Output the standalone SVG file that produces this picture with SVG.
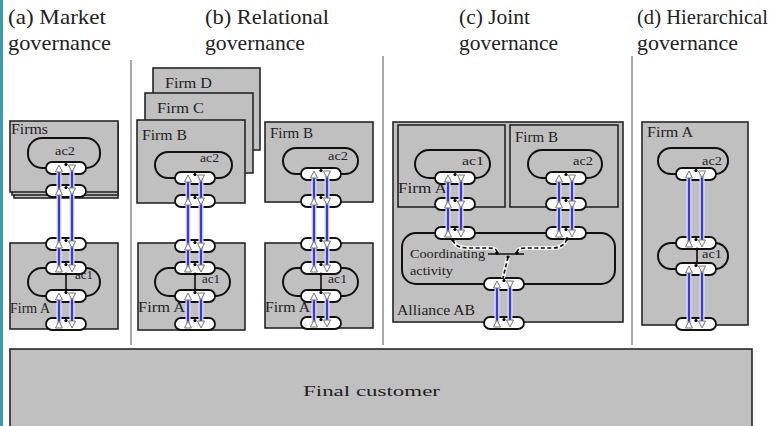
<svg xmlns="http://www.w3.org/2000/svg" xmlns:xlink="http://www.w3.org/1999/xlink" width="770" height="426" viewBox="0 0 770 426">
<style>
text{font-family:"Liberation Serif","Times New Roman",serif;fill:#222}
.title{font-size:21px}
.lbl{font-size:14px}
.ac{font-size:13px}
.box{fill:#c0c0c0;stroke:#262626;stroke-width:1.6}
.loop{fill:none;stroke:#111;stroke-width:2}
.div{stroke:#555;stroke-width:1}
.halo{fill:none;stroke:#e4e4f6;stroke-width:5}
.blue{fill:none;stroke:#3b3bd2;stroke-width:2.4}
.blk{fill:none;stroke:#111;stroke-width:1.6}
.dhalo{fill:none;stroke:#f2f2f2;stroke-width:4}
.dash{fill:none;stroke:#111;stroke-width:1.6;stroke-dasharray:4 2.5}
</style>
<defs>
<symbol id="pbody" overflow="visible"><rect x="0" y="0" width="40" height="12" rx="6" fill="#fff" stroke="#111" stroke-width="1.8"/></symbol>
<symbol id="pmark" overflow="visible"><polygon points="13,3 9.5,10 16.5,10" fill="#fff" stroke="#777" stroke-width="1"/><polygon points="26,10 22.5,3 29.5,3" fill="#fff" stroke="#777" stroke-width="1"/><circle cx="20" cy="2.5" r="1.6" fill="#000"/></symbol>
</defs>
<rect x="0" y="0" width="770" height="426" fill="#fff"/>
<rect x="0" y="0" width="3" height="426" fill="#3a9bb5"/>

<g id="titles">
<text class="title" x="8" y="24" textLength="98" lengthAdjust="spacingAndGlyphs">(a) Market</text>
<text class="title" x="8" y="50" textLength="103" lengthAdjust="spacingAndGlyphs">governance</text>
<text class="title" x="205" y="24" textLength="124" lengthAdjust="spacingAndGlyphs">(b) Relational</text>
<text class="title" x="205" y="50" textLength="100" lengthAdjust="spacingAndGlyphs">governance</text>
<text class="title" x="459" y="24" textLength="71" lengthAdjust="spacingAndGlyphs">(c) Joint</text>
<text class="title" x="459" y="50" textLength="99" lengthAdjust="spacingAndGlyphs">governance</text>
<text class="title" x="637" y="24" textLength="131" lengthAdjust="spacingAndGlyphs">(d) Hierarchical</text>
<text class="title" x="637" y="50" textLength="101" lengthAdjust="spacingAndGlyphs">governance</text>
</g>

<g id="dividers">
<line class="div" x1="131" y1="60" x2="131" y2="345"/>
<line class="div" x1="383" y1="56" x2="383" y2="345"/>
<line class="div" x1="632" y1="56" x2="632" y2="345"/>
</g>

<g id="final-customer">
<rect class="box" x="10" y="349" width="742" height="90" stroke-width="2"/>
<text class="lbl" x="303" y="396" textLength="137" lengthAdjust="spacingAndGlyphs" font-size="16">Final customer</text>
</g>

<!-- (a) -->
<g id="a-firms">
<rect class="box" x="14" y="127" width="104" height="71"/>
<rect class="box" x="12" y="124" width="106" height="71"/>
<rect class="box" x="10" y="121" width="108" height="71"/>
<text class="lbl" x="11" y="134" textLength="37" lengthAdjust="spacingAndGlyphs">Firms</text>
<rect class="loop" x="28" y="138" width="72" height="30" rx="14"/>
<text class="ac" x="55" y="155" textLength="20" lengthAdjust="spacingAndGlyphs">ac2</text>
<use href="#pbody" x="46" y="162"/><use href="#pbody" x="46" y="185"/>
</g>
<g id="a-firmA">
<rect class="box" x="10" y="243" width="108" height="86"/>
<rect class="loop" x="28" y="268" width="72" height="28" rx="14"/>
<text class="ac" x="75" y="279" textLength="18" lengthAdjust="spacingAndGlyphs">ac1</text>
<text class="lbl" x="10" y="313" textLength="40" lengthAdjust="spacingAndGlyphs">Firm A</text>
<use href="#pbody" x="46" y="238"/><use href="#pbody" x="46" y="262"/>
<use href="#pbody" x="46" y="290"/><use href="#pbody" x="46" y="318"/>
</g>

<!-- (b) left -->
<g id="b-firmD"><rect class="box" x="153" y="68" width="107" height="82"/><text class="lbl" x="165" y="88" textLength="47" lengthAdjust="spacingAndGlyphs">Firm D</text></g>
<g id="b-firmC"><rect class="box" x="145" y="93" width="108" height="80"/><text class="lbl" x="157" y="113" textLength="47" lengthAdjust="spacingAndGlyphs">Firm C</text></g>
<g id="b-firmB">
<rect class="box" x="137" y="120" width="108" height="83"/>
<text class="lbl" x="142" y="140" textLength="45" lengthAdjust="spacingAndGlyphs">Firm B</text>
<rect class="loop" x="155" y="152" width="77" height="26" rx="13"/>
<text class="ac" x="200" y="162" textLength="19" lengthAdjust="spacingAndGlyphs">ac2</text>
<use href="#pbody" x="175" y="172"/><use href="#pbody" x="175" y="195"/>
</g>
<g id="b-firmA">
<rect class="box" x="138" y="243" width="107" height="87"/>
<rect class="loop" x="155" y="268" width="75" height="28" rx="14"/>
<text class="ac" x="202" y="283" textLength="18" lengthAdjust="spacingAndGlyphs">ac1</text>
<text class="lbl" x="138" y="312" textLength="47" lengthAdjust="spacingAndGlyphs">Firm A</text>
<use href="#pbody" x="175" y="240"/><use href="#pbody" x="175" y="262"/>
<use href="#pbody" x="175" y="290"/><use href="#pbody" x="175" y="318"/>
</g>

<!-- (b) right -->
<g id="b2-firmB">
<rect class="box" x="265" y="122" width="108" height="80"/>
<text class="lbl" x="270" y="138" textLength="43" lengthAdjust="spacingAndGlyphs">Firm B</text>
<rect class="loop" x="283" y="148" width="75" height="26" rx="13"/>
<text class="ac" x="328" y="160" textLength="20" lengthAdjust="spacingAndGlyphs">ac2</text>
<use href="#pbody" x="301" y="168"/><use href="#pbody" x="301" y="195"/>
</g>
<g id="b2-firmA">
<rect class="box" x="265" y="243" width="108" height="85"/>
<rect class="loop" x="283" y="268" width="75" height="28" rx="14"/>
<text class="ac" x="328" y="283" textLength="19" lengthAdjust="spacingAndGlyphs">ac1</text>
<text class="lbl" x="265" y="312" textLength="45" lengthAdjust="spacingAndGlyphs">Firm A</text>
<use href="#pbody" x="301" y="238"/><use href="#pbody" x="301" y="262"/>
<use href="#pbody" x="301" y="290"/><use href="#pbody" x="301" y="317"/>
</g>

<!-- (c) -->
<g id="c-alliance">
<rect class="box" x="393" y="122" width="230" height="200"/>
<text class="lbl" x="397" y="315" textLength="78" lengthAdjust="spacingAndGlyphs" font-size="15">Alliance AB</text>
<rect class="loop" x="402" y="233" width="213" height="51" rx="14"/>
<text class="ac" x="410" y="258" textLength="75" lengthAdjust="spacingAndGlyphs">Coordinating</text>
<text class="ac" x="410" y="275" textLength="43" lengthAdjust="spacingAndGlyphs">activity</text>
<line x1="488" y1="254" x2="524" y2="254" stroke="#111" stroke-width="1.4"/>
<use href="#pbody" x="484" y="278"/><use href="#pbody" x="484" y="317"/>
</g>
<g id="c-firmA">
<rect class="box" x="398" y="125" width="107" height="82"/>
<rect class="loop" x="415" y="150" width="75" height="28" rx="14"/>
<text class="ac" x="462" y="165" textLength="22" lengthAdjust="spacingAndGlyphs">ac1</text>
<text class="lbl" x="398" y="193" textLength="49" lengthAdjust="spacingAndGlyphs">Firm A</text>
<use href="#pbody" x="435" y="172"/><use href="#pbody" x="435" y="198"/>
<use href="#pbody" x="435" y="227"/>
</g>
<g id="c-firmB">
<rect class="box" x="510" y="125" width="108" height="82"/>
<text class="lbl" x="515" y="142" textLength="43" lengthAdjust="spacingAndGlyphs">Firm B</text>
<rect class="loop" x="528" y="150" width="74" height="28" rx="14"/>
<text class="ac" x="573" y="165" textLength="20" lengthAdjust="spacingAndGlyphs">ac2</text>
<use href="#pbody" x="546" y="172"/><use href="#pbody" x="546" y="198"/>
<use href="#pbody" x="546" y="227"/>
</g>

<!-- (d) -->
<g id="d-firmA">
<rect class="box" x="642" y="122" width="106" height="203"/>
<text class="lbl" x="647" y="137" textLength="46" lengthAdjust="spacingAndGlyphs">Firm A</text>
<rect class="loop" x="658" y="148" width="70" height="26" rx="13"/>
<text class="ac" x="702" y="165" textLength="20" lengthAdjust="spacingAndGlyphs">ac2</text>
<rect class="loop" x="658" y="243" width="70" height="26" rx="13"/>
<text class="ac" x="702" y="258" textLength="20" lengthAdjust="spacingAndGlyphs">ac1</text>
<use href="#pbody" x="676" y="168"/><use href="#pbody" x="676" y="237"/>
<use href="#pbody" x="676" y="263"/><use href="#pbody" x="676" y="318"/>
</g>

<g id="connectors">
<g class="halo-lines">
<path class="halo" d="M59,168V268M72,168V268M59,296V324M72,296V324M188,178V268M201,178V268M188,296V324M201,296V324M314,174V268M327,174V268M314,296V323M327,296V323M448,178V233M461,178V233M559,178V233M572,178V233M497,284V323M510,284V323M689,174V243M702,174V243M689,269V324M702,269V324"/>
<path class="blue" d="M59,168V268M72,168V268M59,296V324M72,296V324M188,178V268M201,178V268M188,296V324M201,296V324M314,174V268M327,174V268M314,296V323M327,296V323M448,178V233M461,178V233M559,178V233M572,178V233M497,284V323M510,284V323M689,174V243M702,174V243M689,269V324M702,269V324"/>
</g>
<path class="blk" d="M66,274V290M195,274V290M321,274V290M697,249V263"/>
<g fill="#000"><circle cx="66" cy="274" r="1.6"/><circle cx="66" cy="290" r="1.6"/><circle cx="195" cy="274" r="1.6"/><circle cx="195" cy="290" r="1.6"/><circle cx="321" cy="274" r="1.6"/><circle cx="321" cy="290" r="1.6"/><circle cx="697" cy="249" r="1.6"/><circle cx="697" cy="263" r="1.6"/></g>
<path class="dhalo" d="M453,240Q455,248 468,248L488,248Q497,248 497,252M567,239Q564,248 552,248L526,248Q517,248 517,252M508,257L503,278"/>
<path class="dash" d="M453,240Q455,248 468,248L488,248Q497,248 497,252M567,239Q564,248 552,248L526,248Q517,248 517,252M508,257L503,278"/>
<g fill="#000"><circle cx="453" cy="240" r="1.8"/><circle cx="567" cy="239" r="1.8"/><circle cx="497" cy="253" r="1.8"/><circle cx="517" cy="253" r="1.8"/><circle cx="508" cy="257" r="1.6"/></g>
</g>

<g id="port-marks">
<use href="#pmark" x="46" y="162"/><use href="#pmark" x="46" y="185"/><use href="#pmark" x="46" y="238"/><use href="#pmark" x="46" y="262"/><use href="#pmark" x="46" y="290"/><use href="#pmark" x="46" y="318"/>
<use href="#pmark" x="175" y="172"/><use href="#pmark" x="175" y="195"/><use href="#pmark" x="175" y="240"/><use href="#pmark" x="175" y="262"/><use href="#pmark" x="175" y="290"/><use href="#pmark" x="175" y="318"/>
<use href="#pmark" x="301" y="168"/><use href="#pmark" x="301" y="195"/><use href="#pmark" x="301" y="238"/><use href="#pmark" x="301" y="262"/><use href="#pmark" x="301" y="290"/><use href="#pmark" x="301" y="317"/>
<use href="#pmark" x="435" y="172"/><use href="#pmark" x="435" y="198"/><use href="#pmark" x="435" y="227"/>
<use href="#pmark" x="546" y="172"/><use href="#pmark" x="546" y="198"/><use href="#pmark" x="546" y="227"/>
<use href="#pmark" x="484" y="278"/><use href="#pmark" x="484" y="317"/>
<use href="#pmark" x="676" y="168"/><use href="#pmark" x="676" y="237"/><use href="#pmark" x="676" y="263"/><use href="#pmark" x="676" y="318"/>
</g>
</svg>
